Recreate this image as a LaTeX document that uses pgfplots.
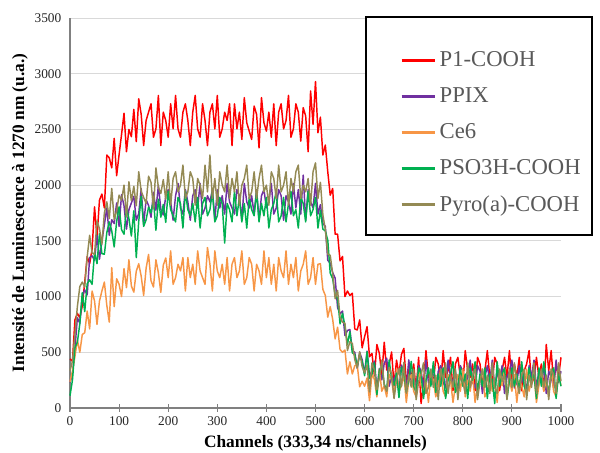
\documentclass[border=0pt]{standalone}
\usepackage{pgfplots}
\pgfplotsset{compat=1.18}
\usepackage{pgfplotstable}
\usepackage{fontspec}
\setmainfont{Liberation Serif}
\definecolor{cP1}{HTML}{FF0000}
\definecolor{cPPIX}{HTML}{7030A0}
\definecolor{cCe}{HTML}{F79646}
\definecolor{cPSO}{HTML}{00B050}
\definecolor{cPyro}{HTML}{948A54}
\definecolor{legtext}{HTML}{595959}
\pgfplotstableread{
x p1 ppix ce6 pso3h pyro
0 440 230 235 110 335
5 420 300 330 250 420
10 790 530 460 540 660
15 850 810 610 590 910
20 810 760 500 755 1090
25 915 1005 660 1035 1130
30 1130 1060 675 865 1085
35 1360 1015 870 1115 1355
40 1295 1350 710 1150 1550
45 1425 1365 1050 1110 1390
50 1805 1325 960 1400 1380
55 1530 1550 750 1295 1680
60 1865 1335 960 1565 1610
65 1920 1495 1050 1385 1470
70 1795 1645 1130 1380 1750
75 2270 1795 920 1575 1850
80 2245 1550 770 1670 1700
85 2155 1690 1260 1590 1970
90 2420 1655 910 1445 1690
95 2085 1840 1160 1675 1770
100 2275 1630 1110 1805 1910
105 2455 1915 1000 1600 1865
110 2645 1815 1250 1560 2000
115 2300 1605 1080 1795 1715
120 2500 1780 1330 1700 2030
125 2435 1840 1095 1543 1860
130 2680 1900 1040 1770 1990
135 2390 1685 1228 1350 1815
140 2775 1745 1295 1675 2120
145 2635 1970 1183 1900 1945
150 2355 1645 1010 1630 1890
155 2580 1869 1254 1689 1835
160 2655 1818 1378 1803 2080
165 2730 1712 1142 1752 2025
170 2430 1936 1086 1866 1790
175 2505 1775 1330 1595 2155
180 2805 1999 1214 1874 1980
185 2355 1783 1038 1713 1925
190 2655 1732 1282 1827 2050
195 2580 1901 1346 1666 1875
200 2430 1960 1170 1945 2120
205 2730 1850 1410 1780 1820
210 2505 1685 1110 1725 2060
215 2805 1905 1170 1670 2120
220 2505 2015 1290 1890 1940
225 2430 1795 1230 1835 2000
230 2655 1740 1350 1615 2180
235 2730 1960 1050 1945 1880
240 2580 1850 1350 1780 1940
245 2355 1685 1170 1725 2120
250 2655 1905 1290 1835 2060
255 2805 1960 1110 1670 1820
260 2505 1795 1410 1890 2060
265 2430 2015 1230 1615 2000
270 2730 1740 1170 1835 1880
275 2580 1795 1110 1890 2180
280 2355 1905 1440 1725 1940
285 2655 1850 1290 1780 2270
290 2730 1960 1050 1945 1880
295 2505 1685 1410 1670 2060
300 2805 1960 1230 1725 1820
305 2430 1795 1170 1890 2120
310 2505 1905 1290 1835 2000
315 2655 1740 1110 1480 1940
320 2580 2015 1350 1835 2180
325 2730 1850 1050 1780 1880
330 2355 1795 1290 1670 2060
335 2730 1740 1350 1945 1940
340 2505 1960 1170 1725 2120
345 2655 1905 1230 1890 1820
350 2410 1685 1410 1670 2000
355 2785 2015 1110 1835 2060
360 2560 1850 1170 1615 2180
365 2485 1795 1350 1890 1880
370 2410 1905 1290 1780 1940
375 2710 1740 1050 1725 2120
380 2635 1960 1290 1945 1880
385 2335 1685 1230 1670 2060
390 2785 1905 1110 1835 2180
395 2560 1960 1410 1725 1940
400 2485 1795 1170 1890 2000
405 2655 1850 1350 1615 1820
410 2430 2015 1110 1780 2120
415 2730 1740 1290 1835 2060
420 2355 1795 1050 1945 1880
425 2655 1960 1350 1670 2180
430 2730 1905 1230 1725 1940
435 2505 1685 1170 1890 2000
440 2580 1905 1410 1670 2120
445 2805 1850 1110 1835 1820
450 2430 1740 1290 1945 2060
455 2505 2015 1170 1725 1940
460 2730 1795 1350 1780 2120
465 2655 1960 1050 1615 2180
470 2395 1740 1230 1890 1880
475 2695 2090 1290 1835 2000
480 2620 1685 1410 1670 1940
485 2300 1960 1110 1945 2060
490 2845 1850 1170 1725 1820
495 2545 1795 1350 1780 2120
500 2930 2015 1110 1890 2200
505 2470 1740 1290 1615 1880
510 2610 1825 1295 1775 2025
515 2270 1655 1065 1605 1735
520 2360 1630 1010 1590 1600
525 2120 1325 815 1505 1380
530 1910 1300 910 1210 1370
535 1970 1215 795 1160 1205
540 1560 1165 620 1015 980
545 1560 900 725 985 1055
550 1320 845 525 755 815
555 1360 870 500 850 770
560 1000 650 520 735 760
565 1050 695 305 570 515
570 1010 705 415 685 595
575 1030 515 305 495 580
580 710 500 380 480 435
585 700 355 385 370 360
590 790 500 190 480 505
595 540 435 240 415 370
600 640 310 195 290 315
605 730 510 270 505 385
610 460 290 65 265 145
615 490 330 310 305 405
620 290 420 255 405 340
625 570 160 100 120 165
630 490 355 350 333 268
635 300 252 150 384 430
640 590 400 200 215 205
645 340 448 100 158 148
650 390 195 300 430 365
655 503 293 250 263 308
660 195 240 100 205 85
665 430 338 350 313 248
670 305 137 150 93 357
675 480 385 200 366 192
680 535 335 300 310 410
685 230 183 50 143 133
690 345 432 250 253 297
695 280 232 300 418 188
700 395 280 150 195 350
705 155 180 100 140 75
710 455 380 350 360 240
715 40 330 200 305 295
720 215 180 150 85 405
725 515 430 250 250 130
730 275 230 50 360 185
735 335 280 300 195 350
740 215 380 250 415 185
745 455 130 100 140 295
750 395 330 200 305 75
755 215 380 350 195 350
760 515 230 150 360 240
765 275 180 100 85 405
770 335 430 300 250 130
775 455 280 250 305 295
780 155 230 50 415 185
785 395 330 200 140 350
790 455 130 300 195 75
795 275 380 150 360 295
800 215 330 350 195 240
805 515 180 100 305 130
810 335 280 250 85 405
815 275 430 150 360 185
820 395 230 300 250 295
825 155 180 50 415 350
830 455 380 200 140 75
835 395 330 250 305 240
840 215 130 350 195 350
845 335 280 100 360 185
850 515 380 150 85 295
855 275 230 300 305 130
860 215 430 150 250 405
865 455 180 250 40 185
870 395 330 50 415 130
875 155 230 300 195 350
880 335 380 200 305 240
885 455 130 350 360 295
890 275 280 100 85 75
895 515 330 250 250 350
900 215 430 150 360 185
905 395 180 300 195 405
910 275 230 50 305 240
915 455 380 250 140 130
920 155 230 200 415 295
925 335 330 100 195 350
930 395 130 350 140 75
935 515 380 150 360 295
940 215 280 250 250 185
945 275 430 300 305 405
950 455 180 50 85 130
955 275 330 200 360 240
960 395 230 300 195 350
965 155 380 150 415 185
970 570 130 250 250 295
975 335 330 100 140 75
980 515 280 350 305 350
985 215 180 150 360 295
990 395 430 100 85 130
995 275 230 300 305 405
1000 455 330 200 195 240
}\data
\begin{document}
\begin{tikzpicture}
\useasboundingbox (0,0) rectangle (450pt,339.75pt);
\begin{axis}[
  at={(52.5pt,33.75pt)}, anchor=south west,
  scale only axis, width=368.25pt, height=292.5pt,
  clip=false,
  xmin=0, xmax=1000, ymin=0, ymax=3500,
  xtick={0,100,...,1000}, ytick={0,500,...,3500},
  axis x line*=bottom, axis y line*=left,
  axis line style={-, draw=gray, line width=0.8pt},
  ymajorgrids, grid style={draw=gray!30, line width=0.6pt},
  tick align=center, major tick length=6pt,
  xtick style={draw=gray, line width=0.8pt},
  ytick style={draw=none},
  /pgf/number format/assume math mode=true,
  /pgf/number format/1000 sep={},
  tick label style={font=\fontsize{10}{12}\selectfont, text=black!85},
  xlabel={Channels (333,34 ns/channels)},
  ylabel={Intensité de Luminescence à 1270 nm (u.a.)},
  label style={font=\fontsize{13}{15}\selectfont\bfseries},
  xlabel style={at={(axis description cs:0.5,-0.0897)}, anchor=center},
  ylabel style={at={(axis description cs:-0.1018,0.5)}, anchor=center},
  legend cell align=left,
  legend image code/.code={\draw[#1, line width=2pt] (0pt,0pt) -- (25pt,0pt); \path (28pt,0pt);},
  legend style={at={(axis description cs:0.6721,0.9385)}, anchor=north west,
    draw=none, fill=none, inner sep=0pt,
    row sep=0pt,
    nodes={inner sep=0pt, minimum height=27pt, text=legtext},
    font=\fontsize{17}{20}\selectfont},
  every axis plot/.append style={line width=1.1pt, line join=round},
]
\addplot[cP1] table[x=x,y=p1]{\data};
\addlegendentry{P1-COOH}
\addplot[cPPIX] table[x=x,y=ppix]{\data};
\addlegendentry{PPIX}
\addplot[cCe] table[x=x,y=ce6]{\data};
\addlegendentry{Ce6}
\addplot[cPSO] table[x=x,y=pso3h]{\data};
\addlegendentry{PSO3H-COOH}
\addplot[cPyro] table[x=x,y=pyro]{\data};
\addlegendentry{Pyro(a)-COOH}
\draw[black, line width=0.8pt, fill=white] (axis description cs:0.6029,1.0026) rectangle (axis description cs:1.0631,0.4436);
\end{axis}
\end{tikzpicture}
\end{document}
